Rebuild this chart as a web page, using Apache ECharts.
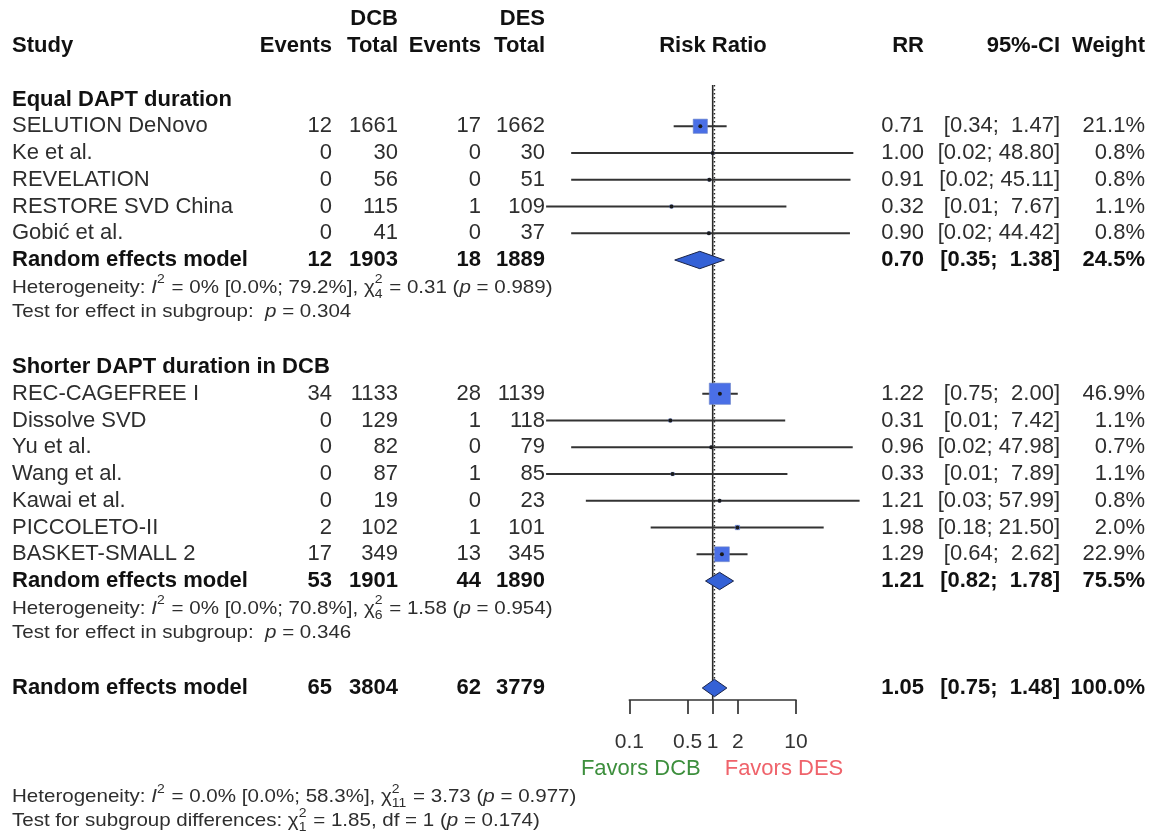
<!DOCTYPE html>
<html>
<head>
<meta charset="utf-8">
<script src="https://cdn.jsdelivr.net/npm/echarts@6/dist/echarts.min.js"></script>
<style>
  html, body { margin: 0; padding: 0; background: #ffffff; }
  #chart { width: 1155px; height: 837px; }
</style>
</head>
<body>
<div id="chart"></div>
<script>
// ---- Study data ----
const groupNames = ['Equal DAPT duration', 'Shorter DAPT duration in DCB'];
const studies = ['SELUTION DeNovo', 'Ke et al.', 'REVELATION', 'RESTORE SVD China', 'Gobić et al.',
  'REC-CAGEFREE I', 'Dissolve SVD', 'Yu et al.', 'Wang et al.', 'Kawai et al.', 'PICCOLETO-II', 'BASKET-SMALL 2'];
const groupOf   = [0, 0, 0, 0, 0, 1, 1, 1, 1, 1, 1, 1];
const dcbEvents = [12, 0, 0, 0, 0, 34, 0, 0, 0, 0, 2, 17];
const dcbTotal  = [1661, 30, 56, 115, 41, 1133, 129, 82, 87, 19, 102, 349];
const desEvents = [17, 0, 0, 1, 0, 28, 1, 0, 1, 0, 1, 13];
const desTotal  = [1662, 30, 51, 109, 37, 1139, 118, 79, 85, 23, 101, 345];
const rr        = [0.71, 1.00, 0.91, 0.32, 0.90, 1.22, 0.31, 0.96, 0.33, 1.21, 1.98, 1.29];
const ciLow     = [0.34, 0.02, 0.02, 0.01, 0.02, 0.75, 0.01, 0.02, 0.01, 0.03, 0.18, 0.64];
const ciHigh    = [1.47, 48.80, 45.11, 7.67, 44.42, 2.00, 7.42, 47.98, 7.89, 57.99, 21.50, 2.62];
const weight    = [21.1, 0.8, 0.8, 1.1, 0.8, 46.9, 1.1, 0.7, 1.1, 0.8, 2.0, 22.9];

// ---- Pooled estimates (subgroup 1, subgroup 2, overall) ----
const pooledLabel     = 'Random effects model';
const pooledDcbEvents = [12, 53, 65];
const pooledDcbTotal  = [1903, 1901, 3804];
const pooledDesEvents = [18, 44, 62];
const pooledDesTotal  = [1889, 1890, 3779];
const pooledRR        = [0.70, 1.21, 1.05];
const pooledLow       = [0.35, 0.82, 0.75];
const pooledHigh      = [1.38, 1.78, 1.48];
const pooledWeight    = [24.5, 75.5, 100.0];

// ---- Heterogeneity statistics ----
const hetI2    = ['0%', '0%', '0.0%'];
const hetI2CI  = ['[0.0%; 79.2%]', '[0.0%; 70.8%]', '[0.0%; 58.3%]'];
const hetDf    = [4, 6, 11];
const hetQ     = ['0.31', '1.58', '3.73'];
const hetP     = ['0.989', '0.954', '0.977'];
const subgroupP = ['0.304', '0.346'];
const diffQ = '1.85', diffDf = 1, diffP = '0.174';

// ---- Axis ----
const axisTicks = [0.1, 0.5, 1, 2, 10];
const nullEffect = 1;
const favorsLeft = 'Favors DCB', favorsRight = 'Favors DES';

// ---- Layout ----
const FONT = '"Liberation Sans", Arial, Helvetica, sans-serif';
const ROW_FS = 22, HET_FS = 18.5, HET_SCALE = 1.11;
const TXT = '#2e2e2e', BOLD = '#111111';
const COL = { study: 12, dcbEv: 332, dcbTot: 398, desEv: 481, desTot: 545, plot: 713, rr: 924, ci: 1060, w: 1145 };

// table rows (row index -> vertical position through the y axis)
const rows = [{ r: -1, kind: 'head1' }, { r: 0, kind: 'head0' }];
let rowCursor = 2;
const studyRow = [];
const pooledRow = [];
groupNames.forEach((g, gi) => {
  rows.push({ r: rowCursor++, kind: 'group', gi });
  studies.forEach((s, i) => {
    if (groupOf[i] === gi) { studyRow[i] = rowCursor; rows.push({ r: rowCursor++, kind: 'study', i }); }
  });
  pooledRow[gi] = rowCursor;
  rows.push({ r: rowCursor++, kind: 'pooled', i: gi });
  rows.push({ r: rowCursor++, kind: 'het', i: gi });
  rows.push({ r: rowCursor++, kind: 'test', i: gi });
  rowCursor++;
});
pooledRow[2] = rowCursor;
rows.push({ r: rowCursor, kind: 'pooled', i: 2 });
const lastRow = rowCursor;

const fmt2 = v => v.toFixed(2);
const ciText = (lo, hi) => {
  const h = fmt2(hi);
  return '[' + fmt2(lo) + ';' + (h.length < 5 ? '  ' : ' ') + h + ']';
};

const measureCtx = document.createElement('canvas').getContext('2d');
function measure(text, size, italic, bold) {
  measureCtx.font = (italic ? 'italic ' : '') + (bold ? 'bold ' : '') + size + 'px ' + FONT;
  return measureCtx.measureText(text).width;
}

function textEl(x, y, s, opt) {
  opt = opt || {};
  return {
    type: 'text', x: x, y: y,
    style: {
      text: s, fill: opt.fill || (opt.bold ? BOLD : TXT),
      fontSize: opt.size || ROW_FS, fontFamily: FONT,
      fontWeight: opt.bold ? 'bold' : 'normal',
      fontStyle: opt.italic ? 'italic' : 'normal',
      align: opt.align || 'left', verticalAlign: 'middle'
    }
  };
}

// a line of statistics text with italics and stacked super/subscripts
function statLine(x0, y, parts, size, scaleX) {
  let x = 0;
  const kids = [];
  parts.forEach(p => {
    if (p.t !== undefined) {
      kids.push(textEl(x, 0, p.t, { size, italic: p.it }));
      x += measure(p.t, size, p.it);
    } else {
      const s = size * 0.68;
      let w = 0;
      if (p.sup) { kids.push(textEl(x, -size * 0.42, p.sup, { size: s })); w = Math.max(w, measure(p.sup, s)); }
      if (p.sub) { kids.push(textEl(x, size * 0.34, p.sub, { size: s })); w = Math.max(w, measure(p.sub, s)); }
      x += w + 1;
    }
  });
  return { type: 'group', x: x0, y: y, scaleX: scaleX, scaleY: 1, children: kids };
}

const hetParts = i => [
  { t: 'Heterogeneity: ' }, { t: 'I', it: true }, { sup: '2' },
  { t: ' = ' + hetI2[i] + ' ' + hetI2CI[i] + ', ' }, { t: 'χ' }, { sup: '2', sub: String(hetDf[i]) },
  { t: ' = ' + hetQ[i] + ' (' }, { t: 'p', it: true }, { t: ' = ' + hetP[i] + ')' }
];

function renderRow(params, api) {
  const row = rows[params.dataIndex];
  const y = api.coord([nullEffect, row.r])[1];
  const k = [];
  switch (row.kind) {
    case 'head1':
      k.push(textEl(COL.dcbTot, y, 'DCB', { bold: true, align: 'right' }));
      k.push(textEl(COL.desTot, y, 'DES', { bold: true, align: 'right' }));
      break;
    case 'head0':
      k.push(textEl(COL.study, y, 'Study', { bold: true }));
      k.push(textEl(COL.dcbEv, y, 'Events', { bold: true, align: 'right' }));
      k.push(textEl(COL.dcbTot, y, 'Total', { bold: true, align: 'right' }));
      k.push(textEl(COL.desEv, y, 'Events', { bold: true, align: 'right' }));
      k.push(textEl(COL.desTot, y, 'Total', { bold: true, align: 'right' }));
      k.push(textEl(COL.plot, y, 'Risk Ratio', { bold: true, align: 'center' }));
      k.push(textEl(COL.rr, y, 'RR', { bold: true, align: 'right' }));
      k.push(textEl(COL.ci, y, '95%-CI', { bold: true, align: 'right' }));
      k.push(textEl(COL.w, y, 'Weight', { bold: true, align: 'right' }));
      break;
    case 'group':
      k.push(textEl(COL.study, y, groupNames[row.gi], { bold: true }));
      break;
    case 'study': {
      const i = row.i;
      k.push(textEl(COL.study, y, studies[i]));
      k.push(textEl(COL.dcbEv, y, String(dcbEvents[i]), { align: 'right' }));
      k.push(textEl(COL.dcbTot, y, String(dcbTotal[i]), { align: 'right' }));
      k.push(textEl(COL.desEv, y, String(desEvents[i]), { align: 'right' }));
      k.push(textEl(COL.desTot, y, String(desTotal[i]), { align: 'right' }));
      k.push(textEl(COL.rr, y, fmt2(rr[i]), { align: 'right' }));
      k.push(textEl(COL.ci, y, ciText(ciLow[i], ciHigh[i]), { align: 'right' }));
      k.push(textEl(COL.w, y, weight[i].toFixed(1) + '%', { align: 'right' }));
      break;
    }
    case 'pooled': {
      const i = row.i;
      const b = { bold: true, align: 'right' };
      k.push(textEl(COL.study, y, pooledLabel, { bold: true }));
      k.push(textEl(COL.dcbEv, y, String(pooledDcbEvents[i]), b));
      k.push(textEl(COL.dcbTot, y, String(pooledDcbTotal[i]), b));
      k.push(textEl(COL.desEv, y, String(pooledDesEvents[i]), b));
      k.push(textEl(COL.desTot, y, String(pooledDesTotal[i]), b));
      k.push(textEl(COL.rr, y, fmt2(pooledRR[i]), b));
      k.push(textEl(COL.ci, y, ciText(pooledLow[i], pooledHigh[i]), b));
      k.push(textEl(COL.w, y, pooledWeight[i].toFixed(1) + '%', b));
      break;
    }
    case 'het':
      k.push(statLine(COL.study, y + 1, hetParts(row.i), HET_FS, HET_SCALE));
      break;
    case 'test':
      k.push(statLine(COL.study, y - 2, [
        { t: 'Test for effect in subgroup:  ' }, { t: 'p', it: true }, { t: ' = ' + subgroupP[row.i] }
      ], HET_FS, HET_SCALE));
      break;
  }
  return { type: 'group', children: k };
}

// confidence interval, weighted square and point estimate for each study
function renderStudy(params, api) {
  const r = api.value(4);
  const y = api.coord([nullEffect, r])[1];
  const xc = api.coord([api.value(0), r])[0];
  const xl = api.coord([api.value(1), r])[0];
  const xh = api.coord([api.value(2), r])[0];
  const side = 3.1 * Math.sqrt(api.value(3));
  return {
    type: 'group', children: [
      { type: 'line', shape: { x1: xl, y1: y, x2: xh, y2: y }, style: { stroke: '#333333', lineWidth: 2 } },
      { type: 'rect', shape: { x: xc - side / 2, y: y - side / 2, width: side, height: side },
        style: { fill: '#4a6fe6', stroke: '#6f86c8', lineWidth: 0.6 } },
      { type: 'circle', shape: { cx: xc, cy: y, r: 2 }, style: { fill: '#1a1a1a' } }
    ]
  };
}

// pooled estimate diamonds
function renderDiamond(params, api) {
  const r = api.value(3);
  const y = api.coord([nullEffect, r])[1];
  const xc = api.coord([api.value(0), r])[0];
  const xl = api.coord([api.value(1), r])[0];
  const xh = api.coord([api.value(2), r])[0];
  const h = 8.7;
  return {
    type: 'polygon',
    shape: { points: [[xl, y], [xc, y - h], [xh, y], [xc, y + h]] },
    style: { fill: '#3461d6', stroke: '#1b2548', lineWidth: 1 }
  };
}

// vertical reference lines: null effect (solid) and overall estimate (dotted)
const LINE_TOP = 1.46, AXIS_ROW = 24.45;
function renderRefLines(params, api) {
  const top = api.coord([nullEffect, LINE_TOP]);
  const bot = api.coord([nullEffect, AXIS_ROW]);
  const oTop = api.coord([pooledRR[2], LINE_TOP]);
  const oBot = api.coord([pooledRR[2], lastRow - 0.3]);
  return {
    type: 'group', children: [
      { type: 'line', shape: { x1: top[0], y1: top[1], x2: bot[0], y2: bot[1] }, style: { stroke: '#2a2a2a', lineWidth: 1.6 } },
      { type: 'line', shape: { x1: oTop[0], y1: oTop[1], x2: oBot[0], y2: oBot[1] },
        style: { stroke: '#2a2a2a', lineWidth: 1.4, lineDash: [1.5, 2.5] } }
    ]
  };
}

// bottom annotations: favors labels and overall statistics
function renderFooter(params, api) {
  const xOne = api.coord([nullEffect, 0])[0];
  return {
    type: 'group', children: [
      textEl(xOne - 12, 769, favorsLeft, { size: 22, align: 'right', fill: '#3d8f3d' }),
      textEl(xOne + 12, 769, favorsRight, { size: 22, align: 'left', fill: '#ef636b' }),
      statLine(COL.study, 797, hetParts(2), HET_FS, HET_SCALE),
      statLine(COL.study, 821, [
        { t: 'Test for subgroup differences: ' }, { t: 'χ' }, { sup: '2', sub: String(diffDf) },
        { t: ' = ' + diffQ + ', df = ' + diffDf + ' (' }, { t: 'p', it: true }, { t: ' = ' + diffP + ')' }
      ], HET_FS, HET_SCALE)
    ]
  };
}

const ONE_X = 712.7, DECADE = 83.3;
const option = {
  backgroundColor: '#ffffff',
  animation: false,
  grid: [
    { left: ONE_X - 2 * DECADE, width: 4 * DECADE, top: 46 - 1.5 * 26.75, height: 26 * 26.75 },
    { left: ONE_X - DECADE, width: 2 * DECADE, top: 650, height: 700 - 650 }
  ],
  xAxis: [
    { gridIndex: 0, type: 'log', logBase: 10, min: 0.01, max: 100, show: false },
    {
      gridIndex: 1, type: 'log', logBase: 10, min: 0.1, max: 10, position: 'bottom',
      axisLine: { show: true, lineStyle: { color: '#333', width: 1.7 } },
      axisTick: { show: true, customValues: axisTicks, length: 14, inside: false, lineStyle: { color: '#333', width: 1.7 } },
      axisLabel: {
        show: true, customValues: axisTicks, margin: 32, fontSize: 21, fontFamily: FONT, color: '#333',
        formatter: v => String(Math.round(v * 10) / 10)
      },
      splitLine: { show: false }, minorTick: { show: false }
    }
  ],
  yAxis: [
    { gridIndex: 0, type: 'value', inverse: true, min: -1.5, max: 24.5, show: false },
    { gridIndex: 1, type: 'value', min: 0, max: 1, show: false }
  ],
  series: [
    {
      type: 'custom', name: 'reference', xAxisIndex: 0, yAxisIndex: 0, clip: false, silent: true,
      data: [[nullEffect, 0]], renderItem: renderRefLines, z: 1
    },
    {
      type: 'custom', name: 'studies', xAxisIndex: 0, yAxisIndex: 0, clip: false,
      data: studies.map((s, i) => [rr[i], ciLow[i], ciHigh[i], weight[i], studyRow[i]]),
      encode: { x: [0, 1, 2], y: 4 }, renderItem: renderStudy, z: 3
    },
    {
      type: 'custom', name: 'pooled', xAxisIndex: 0, yAxisIndex: 0, clip: false,
      data: pooledRR.map((v, i) => [v, pooledLow[i], pooledHigh[i], pooledRow[i]]),
      encode: { x: [0, 1, 2], y: 3 }, renderItem: renderDiamond, z: 3
    },
    {
      type: 'custom', name: 'table', xAxisIndex: 0, yAxisIndex: 0, clip: false, silent: true,
      data: rows.map(o => [nullEffect, o.r]), encode: { x: 0, y: 1 }, renderItem: renderRow, z: 4
    },
    {
      type: 'custom', name: 'footer', xAxisIndex: 0, yAxisIndex: 0, clip: false, silent: true,
      data: [[nullEffect, 0]], renderItem: renderFooter, z: 4
    }
  ]
};

const chart = echarts.init(document.getElementById('chart'));
chart.setOption(option);
</script>
</body>
</html>
